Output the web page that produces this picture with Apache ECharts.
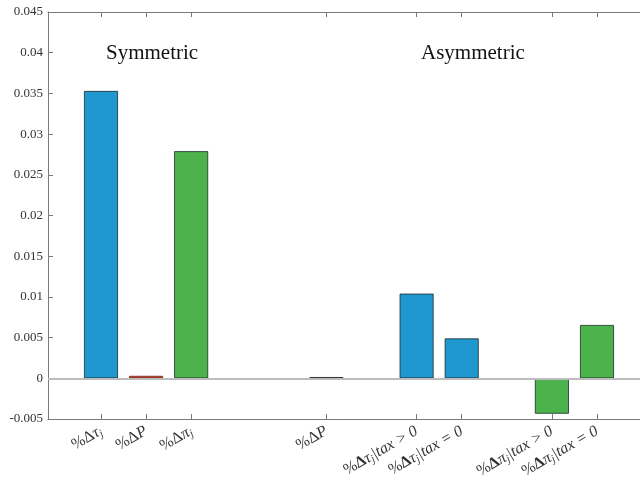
<!DOCTYPE html>
<html>
<head>
<meta charset="utf-8">
<script src="https://cdn.jsdelivr.net/npm/echarts@6/dist/echarts.min.js"></script>
<style>html,body{margin:0;padding:0;background:#fff}#c{width:640px;height:479px}</style>
</head>
<body>
<div id="c"></div>
<script>
// Bar positions (x slots) and values
const barPositions = [1, 2, 3, 6, 8, 9, 11, 12];
const barValues = [0.0353, 0.0003, 0.0279, 0.00015, 0.0104, 0.0049, -0.00435, 0.00655];
const barColors = ['#1f98cf', '#c0452b', '#4cb34c', '#3a3a3a', '#1f98cf', '#1f98cf', '#4cb34c', '#4cb34c'];
const barEdges = ['#1e2a2a', '#7a2a1a', '#1e2a2a', '#2a2a2a', '#1e2a2a', '#1e2a2a', '#1e2a2a', '#1e2a2a'];
// Tick labels (rich text)
const tickPositions = [1, 2, 3, 6, 8, 9, 11, 12];
const tickLabels = [
  '{u|%Δ}τ{s|j}',
  '{u|%Δ}P',
  '{u|%Δ}π{s|j}',
  '{u|%Δ}P',
  '{u|%}{b|Δ}τ{s|j}|tax > 0',
  '{u|%}{b|Δ}τ{s|j}|tax = 0',
  '{u|%}{b|Δ}π{s|j}|tax > 0',
  '{u|%}{b|Δ}π{s|j}|tax = 0'
];
const yTicks = { min: -0.005, max: 0.045, interval: 0.005 };
const groupTitles = ['Symmetric', 'Asymmetric'];

const chart = echarts.init(document.getElementById('c'));
const serif = 'Liberation Serif';
const axisGray = '#7a7a7a';
const labelMap = {};
tickPositions.forEach((p, i) => labelMap[p] = tickLabels[i]);
const xMin = -0.175, xMax = 12.954;

chart.setOption({
  animation: false,
  backgroundColor: '#fff',
  title: [
    { text: groupTitles[0], left: 101, top: 38, textStyle: { fontFamily: serif, fontSize: 21, fontWeight: 'normal', color: '#111' } },
    { text: groupTitles[1], left: 416, top: 38, textStyle: { fontFamily: serif, fontSize: 21, fontWeight: 'normal', color: '#111' } }
  ],
  grid: { left: 48, top: 12, right: 0, bottom: 60, containLabel: false, outerBoundsMode: 'none' },
  xAxis: [{
    type: 'value', min: xMin, max: xMax, position: 'bottom',
    axisLine: { show: true, onZero: false, lineStyle: { color: axisGray, width: 1 } },
    axisTick: { show: true, inside: true, length: 5, customValues: tickPositions, lineStyle: { color: axisGray } },
    axisLabel: {
      customValues: tickPositions, rotate: 30, margin: 11,
      fontFamily: serif, fontStyle: 'italic', fontSize: 16, color: '#333',
      formatter: v => labelMap[v] || '',
      rich: {
        u: { fontFamily: serif, fontStyle: 'normal', fontSize: 16, color: '#333' },
        b: { fontFamily: serif, fontStyle: 'normal', fontWeight: 'bold', fontSize: 16, color: '#333' },
        s: { fontFamily: serif, fontStyle: 'italic', fontSize: 11, color: '#333', verticalAlign: 'bottom', padding: [7, 0, 0, 0] }
      }
    },
    splitLine: { show: false }
  }, {
    type: 'value', min: xMin, max: xMax, position: 'top',
    axisLine: { show: true, onZero: false, lineStyle: { color: axisGray, width: 1 } },
    axisTick: { show: true, inside: true, length: 5, customValues: tickPositions, lineStyle: { color: axisGray } },
    axisLabel: { show: false },
    splitLine: { show: false }
  }],
  yAxis: {
    type: 'value', min: yTicks.min, max: yTicks.max, interval: yTicks.interval,
    axisLine: { show: true, onZero: false, lineStyle: { color: axisGray, width: 1 } },
    axisTick: { show: true, inside: true, length: 5, lineStyle: { color: axisGray } },
    axisLabel: { fontFamily: serif, fontSize: 13, color: '#333', margin: 5,
      formatter: v => String(+v.toFixed(3)) },
    splitLine: { show: false }
  },
  series: [{
    type: 'bar',
    barWidth: 34,
    data: barPositions.map((p, i) => ({ value: [p, barValues[i]], itemStyle: { color: barColors[i], borderColor: barEdges[i] } })),
    itemStyle: { borderWidth: 0.8 },
    markLine: {
      silent: true, symbol: 'none', label: { show: false },
      lineStyle: { color: '#bcbcbc', width: 2, type: 'solid' },
      data: [{ yAxis: 0 }]
    },
    z: 3
  }]
});
</script>
</body>
</html>
